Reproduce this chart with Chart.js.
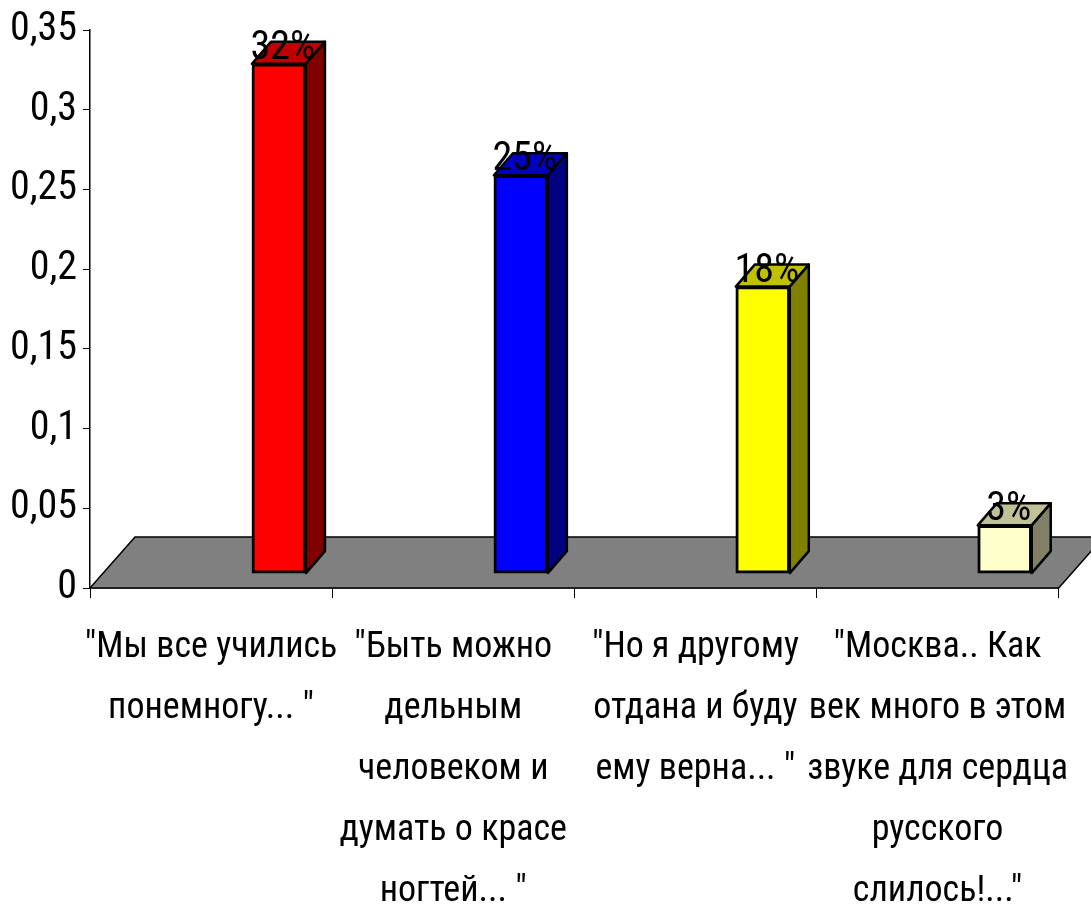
<!DOCTYPE html>
<html>
<head>
<meta charset="utf-8">
<script src="https://cdn.jsdelivr.net/npm/chart.js@4"></script>
<style>
  html, body { margin: 0; padding: 0; background: #fff; }
  #wrap { width: 1091px; height: 911px; }
</style>
</head>
<body>
<div id="wrap"><canvas id="quotesChart"></canvas></div>
<script>
const categories = [
  ['"Мы все учились', 'понемногу... "'],
  ['"Быть можно', 'дельным', 'человеком и', 'думать о красе', 'ногтей... "'],
  ['"Но я другому', 'отдана и буду', 'ему верна... "'],
  ['"Москва.. Как', 'век много в этом', 'звуке для сердца', 'русского', 'слилось!..."']
];
const shares = [0.32, 0.25, 0.18, 0.03];
const shareLabels = ['32%', '25%', '18%', '3%'];
const frontColors = ['#ff0000', '#0000ff', '#ffff00', '#ffffcc'];
const topColors = ['#c00000', '#0000c0', '#c0c000', '#c0c099'];
const sideColors = ['#800000', '#000080', '#808000', '#808066'];

const FONT = '"Roboto Condensed", "Liberation Sans", sans-serif';
const depth = { x: 19, y: -22 };     // bar depth offset
const floorDepth = { x: 45, y: -51 }; // floor depth offset

const floorPlugin = {
  id: "floor",
  beforeDatasetsDraw(chart) {
    const { ctx } = chart;
    const xs = chart.scales.x, ys = chart.scales.y;
    const y0 = ys.getPixelForValue(0);
    ctx.save();
    ctx.beginPath();
    ctx.moveTo(xs.left, y0);
    ctx.lineTo(xs.right, y0);
    ctx.lineTo(xs.right + floorDepth.x, y0 + floorDepth.y);
    ctx.lineTo(xs.left + floorDepth.x, y0 + floorDepth.y);
    ctx.closePath();
    ctx.fillStyle = "#808080";
    ctx.fill();
    ctx.lineWidth = 1.5;
    ctx.strokeStyle = "#000";
    ctx.stroke();
    ctx.restore();
  },
  afterDatasetsDraw(chart) {
    const { ctx } = chart;
    const meta = chart.getDatasetMeta(0);
    ctx.save();
    ctx.lineWidth = 2.5;
    ctx.strokeStyle = "#000";
    ctx.lineJoin = "round";
    meta.data.forEach((bar, i) => {
      const l = bar.x - bar.width / 2, r = bar.x + bar.width / 2;
      const t = bar.y, b = bar.base;
      // top face
      ctx.beginPath();
      ctx.moveTo(l, t);
      ctx.lineTo(r, t);
      ctx.lineTo(r + depth.x, t + depth.y);
      ctx.lineTo(l + depth.x, t + depth.y);
      ctx.closePath();
      ctx.fillStyle = topColors[i];
      ctx.fill();
      ctx.stroke();
      // side face
      ctx.beginPath();
      ctx.moveTo(r, t);
      ctx.lineTo(r, b);
      ctx.lineTo(r + depth.x, b + depth.y);
      ctx.lineTo(r + depth.x, t + depth.y);
      ctx.closePath();
      ctx.fillStyle = sideColors[i];
      ctx.fill();
      ctx.stroke();
      // value label
      ctx.fillStyle = "#000";
      ctx.font = "40px " + FONT;
      ctx.textAlign = "center";
      ctx.textBaseline = "alphabetic";
      ctx.fillText(shareLabels[i], bar.x + 4, t - 5);
    });
    ctx.restore();
  }
};

new Chart(document.getElementById("quotesChart").getContext("2d"), {
  type: "bar",
  data: {
    labels: categories,
    datasets: [
      {
        data: shares.map((v, i) => ({ x: i, y: v })),
        xAxisID: "x2",
        yAxisID: "y2",
        backgroundColor: frontColors,
        borderColor: "#000",
        borderWidth: 3,
        borderSkipped: false,
        barThickness: 54,
      },
    ],
  },
  options: {
    responsive: true,
    maintainAspectRatio: false,
    animation: false,
    layout: { padding: { top: 27, right: 32, left: 0, bottom: 0 } },
    plugins: { legend: { display: false }, tooltip: { enabled: false } },
    scales: {
      x: {
        type: "category",
        offset: true,
        afterFit: (s) => { s.height = 323; },
        grid: { offset: true, drawOnChartArea: false, tickLength: 10, color: "#000" },
        border: { color: "#000", width: 1.5 },
        ticks: {
          color: "#000",
          maxRotation: 0,
          autoSkip: false,
          padding: 19,
          font: { family: FONT, size: 36, lineHeight: 1.7 },
        },
      },
      y: {
        min: 0,
        max: 0.35,
        afterFit: (s) => { s.width = 90; },
        grid: { drawOnChartArea: false, tickLength: 7, color: "#000" },
        border: { color: "#000", width: 1.5 },
        ticks: {
          stepSize: 0.05,
          color: "#000",
          padding: 6,
          font: { family: FONT, size: 40 },
          callback: (v) => String(Math.round(v * 100) / 100).replace(".", ","),
        },
      },
      x2: {
        type: "linear",
        display: false,
        offset: false,
        grid: { offset: false },
        min: -0.781,
        max: 3.223,
      },
      y2: {
        type: "linear",
        display: false,
        min: -0.009375,
        max: 0.34125,
      },
    },
  },
  plugins: [floorPlugin],
});
</script>
</body>
</html>
